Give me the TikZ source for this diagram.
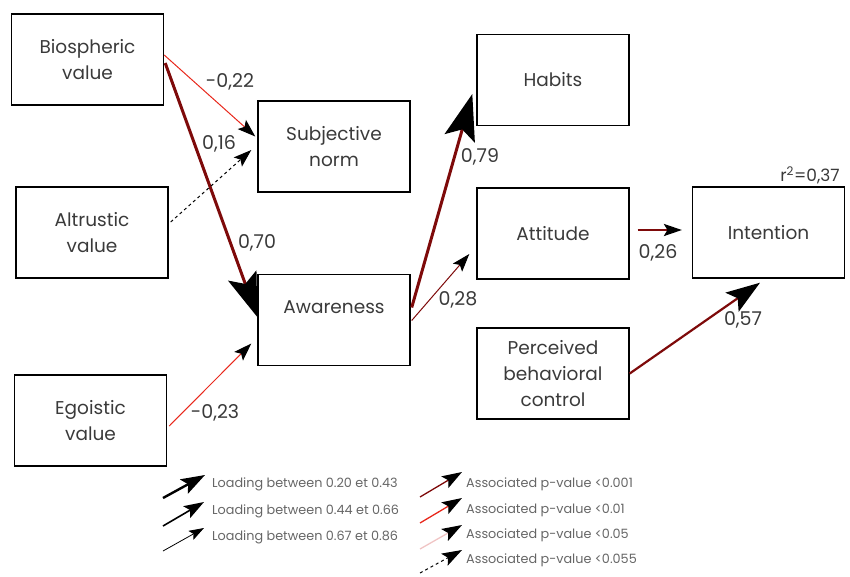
\documentclass[tikz,border=0pt]{standalone}
\usepackage{fontspec}
\setmainfont{Poppins}
\usepackage{tikz}
\usetikzlibrary{arrows.meta,calc}
\definecolor{txtgray}{HTML}{3A3A3A}
\definecolor{leggray}{HTML}{666666}
\definecolor{deepred}{HTML}{7E0A0A}
\definecolor{sigred}{HTML}{E8281C}
\definecolor{palered}{HTML}{F0C4C4}
\newcommand{\boxfont}{\fontsize{18.5}{26}\selectfont}
\newcommand{\coeffont}{\fontsize{19}{22}\selectfont}
\newcommand{\legfont}{\fontsize{12.8}{14}\selectfont}
\tikzset{
  construct/.style={rectangle, draw=black, line width=1.4pt, minimum width=152pt,
                    minimum height=91pt, align=center, font=\boxfont, text=txtgray},
  coef/.style={font=\coeffont, text=txtgray, inner sep=1pt},
  legtext/.style={anchor=west, font=\legfont, text=leggray, inner sep=0pt},
  bigtip/.style={-{Stealth[length=#1, width=0.68*#1, inset=0.2*#1, color=black]}},
}

\begin{document}
\begin{tikzpicture}[x=1pt, y=-1pt]
  \useasboundingbox (0,0) rectangle (850,576);
  % constructs
  \node[construct] (bio)    at (87.5,59.5)  {Biospheric\\value};
  \node[construct] (altr)   at (92,232.5)   {Altrustic\\value};
  \node[construct] (ego)    at (90.5,420.5) {Egoistic\\value};
  \node[construct] (subj)   at (334,146.5)  {Subjective\\norm};
  \node[construct] (aware)  at (334,320)    {Awareness\\\mbox{}};
  \node[construct] (habits) at (553,80)     {Habits};
  \node[construct] (att)    at (553,233.5)  {Attitude};
  \node[construct] (pbc)    at (553,373.5)  {Perceived\\behavioral\\control};
  \node[construct] (intent) at (768.5,232.5) {Intention};
  % paths
  \draw[sigred, line width=1pt, bigtip=18pt]
    ($(bio.east)+(0,-4.5)$) -- ($(subj.west)+(-2,-10)$);
  \draw[deepred, line width=3pt, bigtip=44pt]
    ($(bio.east)+(1,3.5)$) -- ($(aware.west)+(0,-3)$);
  \draw[black, line width=1pt, dashed, bigtip=18pt]
    ($(altr.east)+(2,-10.5)$) -- ($(subj.west)+(-6,3.5)$);
  \draw[sigred, line width=1pt, bigtip=18pt]
    ($(ego.east)+(2,5.5)$) -- ($(aware.west)+(-6,23.5)$);
  \draw[deepred, line width=3pt, bigtip=46pt]
    ($(aware.east)+(1,-12.5)$) -- ($(habits.west)+(-4,14)$);
  \draw[deepred, line width=1pt, bigtip=18pt]
    ($(aware.east)+(1,0.5)$) -- ($(att.west)+(-7,20.5)$);
  \draw[deepred, line width=1.2pt, bigtip=18pt]
    ($(att.east)+(8,-3.5)$) -- ($(intent.west)+(-10,-2.5)$);
  \draw[deepred, line width=2.2pt, bigtip=34pt]
    (pbc.east) -- ($(intent.south)+(-8.5,4)$);
  % coefficients
  \node[coef] (c1) at (230,82)  {-0,22};
  \node[coef] (c2) at (219,144) {0,16};
  \node[coef] (c3) at (257,243) {0,70};
  \node[coef] (c4) at (215,413) {-0,23};
  \node[coef] (c5) at (480,157) {0,79};
  \node[coef] (c6) at (458,300) {0,28};
  \node[coef] (c7) at (658,253) {0,26};
  \node[coef] (c8) at (743,320) {0,57};
  \node[coef, font=\fontsize{17}{20}\selectfont] (r2) at (810,175) {r\textsuperscript{2}=0,37};
  % legend
  \node[legtext] (l1) at (212,484) {Loading between 0.20 et 0.43};
  \node[legtext] (l2) at (212,511) {Loading between 0.44 et 0.66};
  \node[legtext] (l3) at (212,537) {Loading between 0.67 et 0.86};
  \node[legtext] (p1) at (466,484) {Associated p-value <0.001};
  \node[legtext] (p2) at (466,510) {Associated p-value <0.01};
  \node[legtext] (p3) at (466,535) {Associated p-value <0.05};
  \node[legtext] (p4) at (466,560) {Associated p-value <0.055};
  \draw[black, line width=2.4pt, bigtip=24pt] ($(l1.west)+(-49,14)$) -- ($(l1.west)+(-7,-9)$);
  \draw[black, line width=1.6pt, bigtip=20pt] ($(l2.west)+(-49,15)$) -- ($(l2.west)+(-8,-9)$);
  \draw[black, line width=0.8pt, bigtip=15pt] ($(l3.west)+(-49,14)$) -- ($(l3.west)+(-8,-9)$);
  \draw[deepred, line width=1.3pt, bigtip=20pt] ($(p1.west)+(-46,13)$) -- ($(p1.west)+(-4,-12)$);
  \draw[sigred, line width=1.3pt, bigtip=20pt] ($(p2.west)+(-46,13)$) -- ($(p2.west)+(-4,-12)$);
  \draw[palered, line width=1.3pt, bigtip=20pt] ($(p3.west)+(-46,14)$) -- ($(p3.west)+(-4,-10)$);
  \draw[black, line width=1pt, dashed, bigtip=20pt] ($(p4.west)+(-46,13)$) -- ($(p4.west)+(-4,-10)$);
\end{tikzpicture}
\end{document}
